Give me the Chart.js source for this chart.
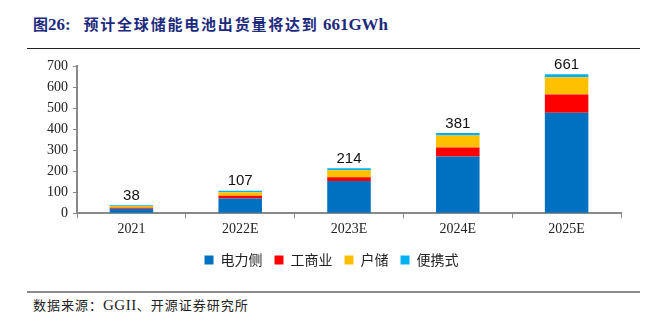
<!DOCTYPE html>
<html>
<head>
<meta charset="utf-8">
<script src="https://cdn.jsdelivr.net/npm/chart.js@4.4.1/dist/chart.umd.min.js"></script>
<style>
  html, body { margin: 0; padding: 0; background: #fff; }
  #wrap { position: relative; width: 652px; height: 324px; overflow: hidden; }
  #title { position: absolute; left: 33px; top: 13px; font: bold 17px "Liberation Serif", serif; color: #1c2a7e; white-space: nowrap; }
  #title .cn { font-family: "Noto Sans CJK SC", sans-serif; font-size: 15px; letter-spacing: 1.8px; }
  #topline { position: absolute; left: 27px; top: 48px; width: 613px; height: 1px; background: #222; }
  #botline { position: absolute; left: 27px; top: 291px; width: 613px; height: 2px; background: #8c8c8c; }
  #source { position: absolute; left: 33px; top: 295px; font: 13px "Noto Sans CJK SC", sans-serif; letter-spacing: 1px; color: #222; white-space: nowrap; }
  #source .lat { font-family: "Liberation Serif", serif; font-size: 15px; letter-spacing: 0.5px; }
  #chartBox { position: absolute; left: 0; top: 50px; width: 652px; height: 227px; }
</style>
</head>
<body>
<div id="wrap">
  <div id="title"><span class="cn" style="letter-spacing:0">图</span>26:&nbsp;&nbsp;&nbsp;<span class="cn">预计全球储能电池出货量将达到</span> 661GWh</div>
  <div id="topline"></div>
  <div id="chartBox"><canvas id="chart"></canvas></div>
  <div id="botline"></div>
  <div id="source">数据来源：<span class="lat">GGII</span>、开源证券研究所</div>
</div>
<script>
// データ
const years = ['2021', '2022E', '2023E', '2024E', '2025E'];
const grid = [21, 70, 153, 270, 478];     // 电力侧
const commercial = [5, 13, 18, 43, 86];   // 工商业
const household = [8, 17, 33, 56, 82];    // 户储
const portable = [4, 7, 10, 12, 15];      // 便携式
const totals = [38, 107, 214, 381, 661];
const yTicks = [0, 100, 200, 300, 400, 500, 600, 700];

const serif = '"Liberation Serif", "Times New Roman", serif';

// 合計ラベル
const totalLabels = {
  id: 'totalLabels',
  afterDatasetsDraw(chart) {
    const { ctx, scales } = chart;
    ctx.save();
    ctx.font = '15px "Liberation Sans", "Noto Sans", sans-serif';
    ctx.fillStyle = '#111';
    ctx.textAlign = 'center';
    ctx.textBaseline = 'bottom';
    totals.forEach((t, i) => {
      const x = scales.x.getPixelForValue(i);
      const y = scales.y.getPixelForValue(t);
      ctx.fillText(String(t), x, y - 2);
    });
    ctx.restore();
  }
};

const mk = (label, data, color) => ({
  label, data, backgroundColor: color, borderWidth: 0,
  barPercentage: 0.4, categoryPercentage: 1
});

new Chart(document.getElementById('chart'), {
  type: 'bar',
  data: {
    labels: years,
    datasets: [
      mk('电力侧', grid, '#0070c0'),
      mk('工商业', commercial, '#ff0000'),
      mk('户储', household, '#ffc000'),
      mk('便携式', portable, '#00b0f0')
    ]
  },
  options: {
    responsive: true, maintainAspectRatio: false, animation: false,
    layout: { padding: { left: 42, right: 31, top: 16, bottom: 0 } },
    scales: {
      x: {
        stacked: true,
        grid: { display: true, offset: true, drawOnChartArea: false, tickLength: 5, color: '#898989' },
        border: { color: '#898989', width: 2 },
        ticks: { color: '#222', font: { family: serif, size: 14 }, padding: 3 }
      },
      y: {
        stacked: true, min: 0, max: 700,
        afterBuildTicks: (s) => { s.ticks = yTicks.map(v => ({ value: v })); },
        grid: { display: true, drawOnChartArea: false, tickLength: 4, color: '#898989' },
        border: { color: '#898989', width: 2 },
        ticks: { color: '#222', font: { family: serif, size: 14 }, padding: 5 }
      }
    },
    plugins: {
      legend: {
        position: 'bottom',
        labels: {
          boxWidth: 9, boxHeight: 9, padding: 12, color: '#222',
          font: { family: '"Noto Sans CJK SC", sans-serif', size: 14 }
        }
      },
      tooltip: { enabled: false }
    }
  },
  plugins: [totalLabels]
});
</script>
</body>
</html>
